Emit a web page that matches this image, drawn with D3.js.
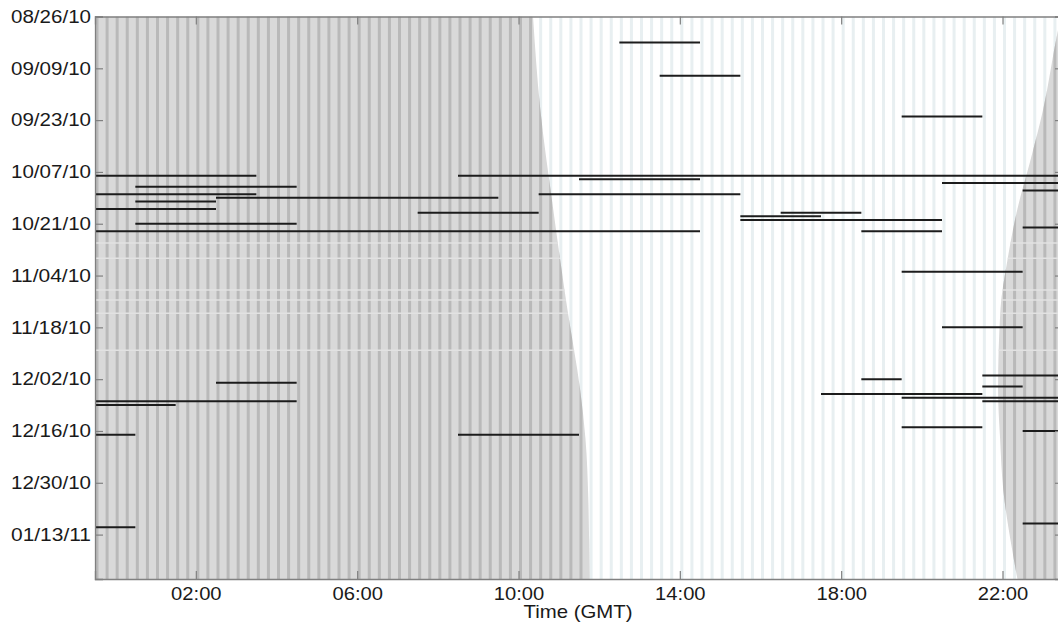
<!DOCTYPE html>
<html>
<head>
<meta charset="utf-8">
<script src="https://cdn.jsdelivr.net/npm/d3@7"></script>
<style>
  html, body { margin: 0; padding: 0; background: #ffffff; }
  svg { display: block; }
  text { font-family: "Liberation Sans", Arial, sans-serif; }
</style>
</head>
<body>
<svg id="chart" width="1058" height="628"></svg>
<script>
// ---------------- data ----------------
// y axis: days since 08/26/10 ; x axis: hour of day (GMT), hourly bins edges
const dayDomain = [0, 152];
const hourDomain = [-0.5, 23.5];

const dateTickDays   = [0, 14, 28, 42, 56, 70, 84, 98, 112, 126, 140];
const dateTickLabels = ["08/26/10", "09/09/10", "09/23/10", "10/07/10", "10/21/10",
                        "11/04/10", "11/18/10", "12/02/10", "12/16/10", "12/30/10", "01/13/11"];

const hourTicks      = [2, 6, 10, 14, 18, 22];
const hourTickLabels = ["02:00", "06:00", "10:00", "14:00", "18:00", "22:00"];

// observed episodes: day offset, start hour, end hour
const segDays   = [7, 16, 27, 43, 43, 44, 45, 46, 47, 48, 48, 49, 50, 52, 53, 53, 54, 55, 56, 57, 58, 58,
                   69, 84, 97, 98, 99, 100, 102, 103, 104, 104, 105, 111, 112, 113, 113, 137, 138];
const segStarts = [12.5, 13.5, 19.5, -0.5, 8.5, 11.5, 20.5, 0.5, 22.5, -0.5, 10.5, 2.5, 0.5, -0.5, 7.5, 16.5, 15.5, 15.5, 0.5, 22.5, -0.5, 18.5,
                   19.5, 20.5, 21.5, 18.5, 2.5, 21.5, 17.5, 19.5, -0.5, 21.5, -0.5, 19.5, 22.5, -0.5, 8.5, 22.5, -0.5];
const segEnds   = [14.5, 15.5, 21.5, 3.5, 23.5, 14.5, 23.5, 4.5, 23.5, 3.5, 15.5, 9.5, 2.5, 2.5, 10.5, 18.5, 17.5, 20.5, 4.5, 23.5, 14.5, 20.5,
                   22.5, 22.5, 23.5, 19.5, 4.5, 22.5, 21.5, 23.5, 4.5, 23.5, 1.5, 21.5, 23.5, 0.5, 11.5, 23.5, 0.5];

// night boundaries (sunrise / sunset, GMT hours)
const sunriseDays  = [0, 25, 52, 79, 101, 114, 130, 152];
const sunriseHours = [10.36, 10.54, 10.86, 11.21, 11.53, 11.66, 11.73, 11.76];
const sunsetDays   = [0, 4.5, 25, 39, 52, 66, 79, 101, 114, 128, 141, 152];
const sunsetHours  = [23.45, 23.36, 23.01, 22.69, 22.37, 22.12, 21.95, 21.89, 21.94, 22.02, 22.19, 22.37];

// lighter rows crossing the night shading
const gapDays = [61.2, 65.3, 73.9, 76.6, 80.2, 90.2];

// ---------------- layout ----------------
const mLeft = 95, mTop = 16.5, mRight = 1063, mBottom = 579;
const svg = d3.select("#chart");

const x = d3.scaleLinear().domain(hourDomain).range([mLeft, mRight]);
const y = d3.scaleLinear().domain(dayDomain).range([mTop, mBottom]);

const defs = svg.append("defs");
defs.append("clipPath").attr("id", "plotClip")
  .append("rect").attr("x", mLeft).attr("y", mTop).attr("width", mRight - mLeft).attr("height", mBottom - mTop);

const sunrise = sunriseDays.map((d, i) => ({ day: d, h: sunriseHours[i] }));
const sunset  = sunsetDays.map((d, i) => ({ day: d, h: sunsetHours[i] }));

const leftArea = d3.area()
  .y(d => y(d.day))
  .x0(x(hourDomain[0]))
  .x1(d => x(d.h))
  .curve(d3.curveMonotoneY);
const rightArea = d3.area()
  .y(d => y(d.day))
  .x0(d => x(d.h))
  .x1(x(hourDomain[1]) + 5)
  .curve(d3.curveMonotoneY);

const nightClip = defs.append("clipPath").attr("id", "nightClip");
nightClip.append("path").attr("d", leftArea(sunrise));
nightClip.append("path").attr("d", rightArea(sunset));

const plot = svg.append("g").attr("clip-path", "url(#plotClip)");

// day background + faint stripes
plot.append("rect").attr("x", mLeft).attr("y", mTop)
  .attr("width", mRight - mLeft).attr("height", mBottom - mTop).attr("fill", "#ffffff");

const quarterBins = d3.range(hourDomain[0], hourDomain[1], 0.25);
plot.append("g").selectAll("rect").data(quarterBins).join("rect")
  .attr("x", d => x(d) + 0.5)
  .attr("y", mTop)
  .attr("width", 3)
  .attr("height", mBottom - mTop)
  .attr("fill", "#e8eff1");

// night shading with darker stripes
const night = plot.append("g").attr("clip-path", "url(#nightClip)");
night.append("rect").attr("x", mLeft).attr("y", mTop)
  .attr("width", mRight - mLeft + 10).attr("height", mBottom - mTop).attr("fill", "#d9d9d9");
night.append("g").selectAll("rect").data(quarterBins).join("rect")
  .attr("x", d => x(d) + 0.5)
  .attr("y", mTop)
  .attr("width", 3)
  .attr("height", mBottom - mTop)
  .attr("fill", "#b9b9b9");
night.append("g").selectAll("line").data(gapDays).join("line")
  .attr("x1", mLeft).attr("x2", mRight + 10)
  .attr("y1", d => y(d)).attr("y2", d => y(d))
  .attr("stroke", "#e2e2e2").attr("stroke-width", 1.5);

// episodes
const segs = segDays.map((d, i) => ({ day: d, s: segStarts[i], e: segEnds[i] }));
plot.append("g").selectAll("line").data(segs).join("line")
  .attr("x1", d => x(d.s)).attr("x2", d => x(d.e))
  .attr("y1", d => y(d.day)).attr("y2", d => y(d.day))
  .attr("stroke", "#1c1c1c").attr("stroke-width", 2);

// ---------------- axes ----------------
const axisColor = "#808080";
function styleAxis(g, labelWidth) {
  g.select(".domain").attr("stroke", axisColor).attr("stroke-width", 1.3);
  g.selectAll(".tick line").attr("stroke", axisColor).attr("stroke-width", 1.2);
  const t = g.selectAll(".tick text").attr("fill", "#1a1a1a")
    .style("font-size", "18px")
    .style("font-family", "'Liberation Sans', Arial, sans-serif");
  if (labelWidth) t.attr("textLength", labelWidth).attr("lengthAdjust", "spacingAndGlyphs");
}

const yAxis = d3.axisLeft(y).tickValues(dateTickDays)
  .tickFormat((d, i) => dateTickLabels[i]).tickSize(-8).tickPadding(4);
svg.append("g").attr("transform", `translate(${mLeft},0)`).call(yAxis).call(styleAxis, 80);

const yAxisR = d3.axisRight(y).tickValues(dateTickDays).tickFormat("").tickSize(-8);
svg.append("g").attr("transform", `translate(${mRight},0)`).call(yAxisR).call(styleAxis);

const xAxis = d3.axisBottom(x).tickValues(hourTicks)
  .tickFormat((d, i) => hourTickLabels[i]).tickSize(-8).tickPadding(8);
svg.append("g").attr("transform", `translate(0,${mBottom})`).call(xAxis).call(styleAxis, 50.5);

const xAxisT = d3.axisTop(x).tickValues(hourTicks).tickFormat("").tickSize(-8);
svg.append("g").attr("transform", `translate(0,${mTop})`).call(xAxisT).call(styleAxis);

svg.append("text")
  .attr("x", 578).attr("y", 618)
  .attr("text-anchor", "middle")
  .attr("fill", "#1a1a1a")
  .attr("textLength", 109)
  .attr("lengthAdjust", "spacingAndGlyphs")
  .style("font-size", "19px")
  .text("Time (GMT)");
</script>
</body>
</html>
